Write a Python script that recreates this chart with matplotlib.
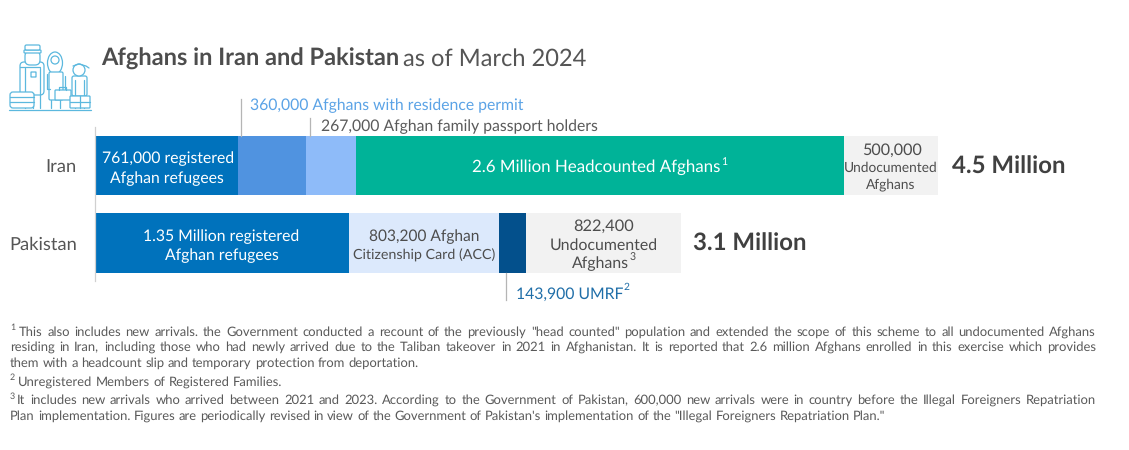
import matplotlib
matplotlib.use("Agg")
import matplotlib.pyplot as plt
from matplotlib.patches import FancyBboxPatch, Ellipse

W, H = 1129, 450
plt.rcParams['font.family'] = ['Lato', 'Noto Sans', 'DejaVu Sans']
plt.rcParams['text.hinting'] = 'no_hinting'
TEXT = '#4d4d4d'

# Population figures, in thousands of people
countries = ['Iran', 'Pakistan']
iran_values = [761, 360, 267, 2600, 500]
iran_colors = ['#0072BC', '#5093E0', '#8EBBF9', '#00B398', '#F2F2F2']
pakistan_values = [1350, 803.2, 143.9, 822.4]
pakistan_colors = ['#0072BC', '#DCE9FC', '#03508C', '#F2F2F2']
iran_total = '4.5 Million'
pakistan_total = '3.1 Million'

footnote_1 = [
    'This also includes new arrivals. the Government conducted a recount of the previously "head counted" population and extended the scope of this scheme to all undocumented Afghans',
    'residing in Iran, including those who had newly arrived due to the Taliban takeover in 2021 in Afghanistan. It is reported that 2.6 million Afghans enrolled in this exercise which provides',
    'them with a headcount slip and temporary protection from deportation.',
]
footnote_2 = ['Unregistered Members of Registered Families.']
footnote_3 = [
    'It includes new arrivals who arrived between 2021 and 2023. According to the Government of Pakistan, 600,000 new arrivals were in country before the Illegal Foreigners Repatriation',
    "Plan implementation. Figures are periodically revised in view of the Government of Pakistan's implementation of the \"Illegal Foreigners Repatriation Plan.\"",
]

fig = plt.figure(figsize=(W / 100, H / 100), dpi=100, facecolor='white')

# Chart axes fill the figure; the x scale is 0.1878 px per thousand people
PX_PER_K = 0.1878
X0 = 95
IRAN_Y, PAK_Y = 165.5, 243.0
ROW = PAK_Y - IRAN_Y
ax = fig.add_axes([0, 0, 1, 1])
ax.set_xlim(-X0 / PX_PER_K, (W - X0) / PX_PER_K)
ax.set_ylim((H - IRAN_Y) / ROW, -IRAN_Y / ROW)
ax.axis('off')


def stack(row, values, colors):
    left = 0
    for v, c in zip(values, colors):
        ax.barh(row, v, left=left, height=59.5 / ROW, color=c, linewidth=0, zorder=2)
        left += v


stack(0, iran_values, iran_colors)
stack(1, pakistan_values, pakistan_colors)


def px(x, y, s, size, color=TEXT, ha='center', va='center', weight='normal', **kw):
    return fig.text(x / W, 1 - (y + 2.0) / H, s, fontsize=size, color=color, ha=ha, va=va,
                    fontweight=weight, **kw)


def vline(x, y0, y1, color='#b5b5b5', lw=0.9):
    fig.add_artist(plt.Line2D([x / W, x / W], [1 - y0 / H, 1 - y1 / H], color=color, lw=lw))


# Title
px(101, 57, 'Afghans in Iran and Pakistan', 17.0, ha='left', weight='bold')
px(403, 57, 'as of March 2024', 17.0, ha='left', color='#555555')

# Row labels and axis rule
px(77, 165.5, countries[0], 13.2, ha='right', color='#555555')
px(77, 242.5, countries[1], 13.2, ha='right', color='#555555')
vline(94.5, 127, 281, color='#d0d0d0')

# Callouts above and below the bars
vline(241, 99, 136)
vline(309.5, 118, 136)
vline(506, 273, 300)
px(250, 104, '360,000 Afghans with residence permit', 11.3, ha='left', color='#5BA3E6')
px(321, 124.5, '267,000 Afghan family passport holders', 11.3, ha='left', color='#5a5a5a')
px(516, 292, '143,900 UMRF', 11.3, ha='left', color='#1F6EA8')
px(624, 285, '2', 7.4, ha='left', color='#1F6EA8')

# Labels inside the bars
px(168, 157, '761,000 registered', 11.3, color='white')
px(166.5, 176.5, 'Afghan refugees', 11.3, color='white')
px(596.5, 165.5, '2.6 Million Headcounted Afghans', 12.2, color='white')
px(724, 160, '1', 7.6, color='white')
px(892, 148, '500,000', 11.6)
px(891, 166, 'Undocumented', 9.9)
px(891, 182.5, 'Afghans', 9.9)
px(221.5, 234.5, '1.35 Million registered', 11.3, color='white')
px(222, 253.5, 'Afghan refugees', 11.3, color='white')
px(424, 234.5, '803,200 Afghan', 11.2)
px(424.5, 253.5, 'Citizenship Card (ACC)', 10.3)
px(603.5, 224.5, '822,400', 11.8)
px(603.5, 243.5, 'Undocumented', 11.4)
px(600.5, 261.5, 'Afghans', 11.4)
px(633, 256, '3', 7.6)

# Row totals
px(952, 165, iran_total, 17.3, ha='left', weight='bold', color='#404040')
px(693, 242, pakistan_total, 17.3, ha='left', weight='bold', color='#404040')


def justified(line, x0, x1, y, size=9.4, color='#595959', justify=True):
    """Draw one footnote line, spreading its words across x0..x1 when justify is set."""
    words = line.split(' ')
    rend = fig.canvas.get_renderer()
    artists = [px(x0, y, w, size, color=color, ha='left') for w in words]
    widths = [a.get_window_extent(rend).width for a in artists]
    probe = px(0, 0, 'a a', size)
    probe2 = px(0, 0, 'aa', size)
    space = probe.get_window_extent(rend).width - probe2.get_window_extent(rend).width
    probe.remove()
    probe2.remove()
    if justify and len(words) > 1:
        space = (x1 - x0 - sum(widths)) / (len(words) - 1)
    x = x0
    for a, w in zip(artists, widths):
        a.set_x(x / W)
        x += w + space


FX0, FX1 = 10, 1096
justified(footnote_1[0], 19, FX1, 330)
justified(footnote_1[1], FX0, FX1, 345.5)
justified(footnote_1[2], FX0, FX1, 361.5, justify=False)
justified(footnote_2[0], 18, FX1, 380, justify=False)
justified(footnote_3[0], 17, FX1, 398.5)
justified(footnote_3[1], FX0, FX1, 414.5, justify=False)
px(10, 325.5, '1', 6.4, ha='left', color='#595959')
px(10, 375, '2', 6.4, ha='left', color='#595959')
px(10, 394, '3', 6.4, ha='left', color='#595959')

# Family-with-luggage pictogram, drawn in pixel space
ICON = '#5BB8DE'
icon = fig.add_axes([0, 0, 1, 1], facecolor='none')
icon.set_xlim(0, W)
icon.set_ylim(H, 0)
icon.axis('off')
LW = 0.9


def rrect(x, y, w, h, r=1.5, fc='white', z=3):
    icon.add_patch(FancyBboxPatch((x, y), w, h, boxstyle=f'round,pad=0,rounding_size={r}',
                                  fc=fc, ec=ICON, lw=LW, zorder=z))


def seg(*pts, z=4):
    xs, ys = zip(*pts)
    icon.plot(xs, ys, color=ICON, lw=LW, zorder=z, solid_capstyle='round')


# Man
rrect(20, 62, 24, 33, 4)
rrect(31, 72, 5, 5, 0.3, z=5)
seg((20, 67), (40, 67), z=5)
seg((25, 68), (25, 108))
seg((40, 68), (40, 108))
seg((33, 93), (33, 108))
rrect(25, 51, 15, 14, 5)
rrect(24, 50, 17, 3, 0.8, z=5)
rrect(25, 45, 15, 5, 1.5, z=5)
# Woman
icon.add_patch(Ellipse((55, 63), 15, 22, fc='white', ec=ICON, lw=LW, zorder=3))
icon.add_patch(Ellipse((55, 60), 8, 8, fc='white', ec=ICON, lw=LW, zorder=4))
rrect(49, 72, 14, 28, 1.5)
seg((47, 74), (47, 89), (50, 89))
seg((65, 76), (65, 90))
seg((51, 100), (51, 108))
seg((60, 100), (60, 108))
# Child
rrect(72, 76, 15, 20, 2)
seg((75, 80), (75, 108))
seg((84, 80), (84, 108))
icon.add_patch(Ellipse((79, 70), 12, 12, fc='white', ec=ICON, lw=LW, zorder=4))
seg((73, 66), (79, 64), (86, 66), (89, 68), z=5)
# Luggage
rrect(10, 92, 24, 16, 3, z=6)
seg((10, 97), (34, 97), z=7)
seg((10, 102), (34, 102), z=7)
rrect(55, 90, 16, 10, 0.8, z=6)
seg((59, 90), (59, 87), (66, 87), (66, 90), z=7)
rrect(70, 96, 20, 12, 0.8, z=6)
seg((70, 102), (90, 102), z=7)
seg((80, 96), (80, 108), z=7)
# Ground
seg((9, 109.5), (91, 109.5), z=8)

fig.savefig('out.png', dpi=100)
